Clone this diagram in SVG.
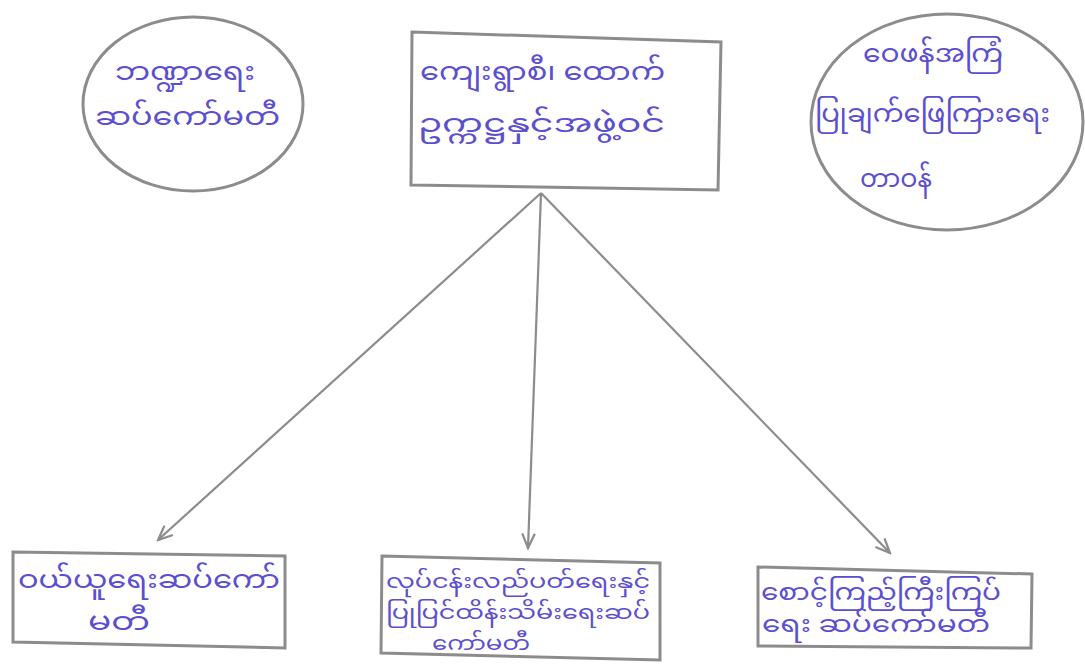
<svg xmlns="http://www.w3.org/2000/svg" width="1085" height="666" viewBox="0 0 1085 666">
<defs>
<style>
.shape{fill:none;stroke:#8c8c8c;stroke-width:3}
.conn{fill:none;stroke:#8c8c8c;stroke-width:2.2}
.t{font-family:"Noto Sans","Noto Sans Myanmar","DejaVu Sans",sans-serif;font-size:26px;fill:#5b4fd0;text-anchor:start}
.s{font-size:20px}
.m{font-size:23px}
</style>
<marker id="ah" viewBox="0 0 20 20" refX="18" refY="10" markerWidth="18" markerHeight="18" markerUnits="userSpaceOnUse" orient="auto">
<path d="M2,3 L18,10 L2,17" fill="none" stroke="#8c8c8c" stroke-width="2.5"/>
</marker>
</defs>
<rect width="1085" height="666" fill="#ffffff"/>
<g id="connectors">
<line class="conn" x1="541" y1="193" x2="158" y2="540" marker-end="url(#ah)"/>
<line class="conn" x1="541" y1="193" x2="528" y2="548" marker-end="url(#ah)"/>
<line class="conn" x1="541" y1="193" x2="890" y2="553" marker-end="url(#ah)"/>
</g>
<g id="finance">
<ellipse class="shape" cx="193" cy="104" rx="110" ry="87"/>
<text class="t" x="115" y="80" textLength="140" lengthAdjust="spacingAndGlyphs">ဘဏ္ဍာရေး</text>
<text class="t" x="95" y="125" textLength="185" lengthAdjust="spacingAndGlyphs">ဆပ်ကော်မတီ</text>
</g>
<g id="village">
<polygon class="shape" points="412,32 721,42 718,190 411,185"/>
<text class="t" x="420" y="80" textLength="245" lengthAdjust="spacingAndGlyphs">ကျေးရွာစီ၊ ထောက်</text>
<text class="t" x="418" y="132" textLength="247" lengthAdjust="spacingAndGlyphs">ဥက္ကဋ္ဌနှင့်အဖွဲ့ဝင်</text>
</g>
<g id="feedback">
<ellipse class="shape" cx="947" cy="122" rx="136" ry="108"/>
<text class="t" x="863" y="62" textLength="140" lengthAdjust="spacingAndGlyphs">ဝေဖန်အကြံ</text>
<text class="t" x="815" y="122" textLength="235" lengthAdjust="spacingAndGlyphs">ပြုချက်ဖြေကြားရေး</text>
<text class="t" x="860" y="187" textLength="72" lengthAdjust="spacingAndGlyphs">တာဝန်</text>
</g>
<g id="procurement">
<polygon class="shape" points="13,552 285,556 285,648 13,642"/>
<text class="t" x="18" y="588" textLength="262" lengthAdjust="spacingAndGlyphs">ဝယ်ယူရေးဆပ်ကော်</text>
<text class="t" x="88" y="630" textLength="62" lengthAdjust="spacingAndGlyphs">မတီ</text>
</g>
<g id="operation">
<polygon class="shape" points="382,556 660,563 660,660 381,653"/>
<text class="t s" x="386" y="588" textLength="264" lengthAdjust="spacingAndGlyphs">လုပ်ငန်းလည်ပတ်ရေးနှင့်</text>
<text class="t s" x="386" y="619" textLength="264" lengthAdjust="spacingAndGlyphs">ပြုပြင်ထိန်းသိမ်းရေးဆပ်</text>
<text class="t s" x="432" y="650" textLength="98" lengthAdjust="spacingAndGlyphs">ကော်မတီ</text>
</g>
<g id="monitoring">
<polygon class="shape" points="758,567 1032,574 1031,648 758,646"/>
<text class="t m" x="761" y="600" textLength="240" lengthAdjust="spacingAndGlyphs">စောင့်ကြည့်ကြီးကြပ်</text>
<text class="t m" x="762" y="632" textLength="228" lengthAdjust="spacingAndGlyphs">ရေး ဆပ်ကော်မတီ</text>
</g>
</svg>
